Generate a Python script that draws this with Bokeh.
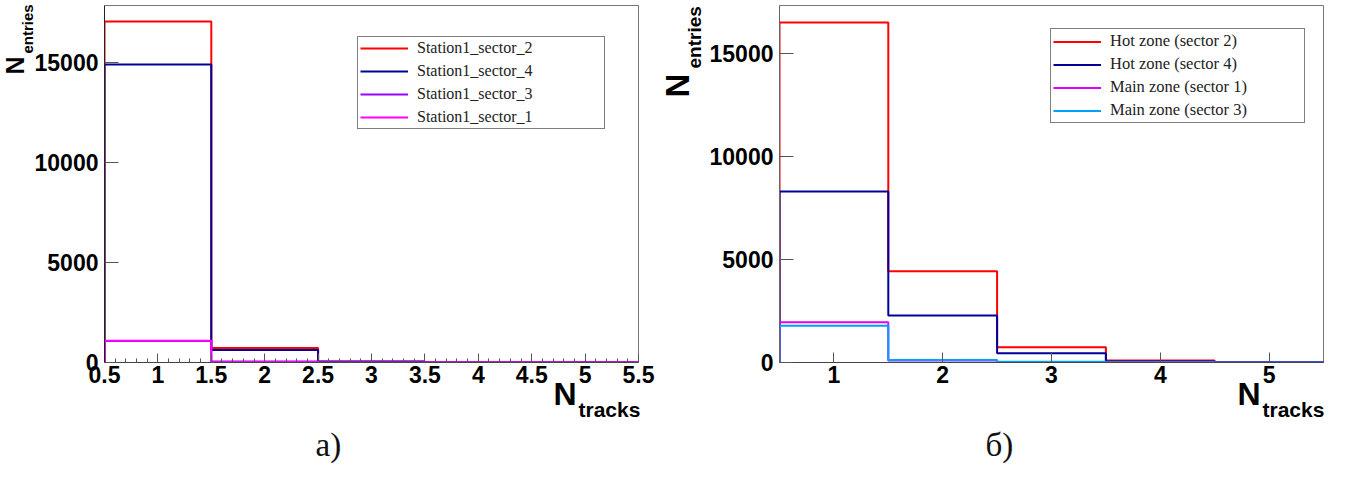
import numpy as np
from bokeh.plotting import figure
from bokeh.models import Range1d, FixedTicker, Legend, LegendItem, Title
from bokeh.layouts import row
from bokeh.embed import file_html
from bokeh.resources import INLINE

# ---------------- data ----------------
bin_edges = [0.5, 1.5, 2.5, 3.5, 4.5, 5.5]

# panel a)
left_names = ["Station1_sector_2", "Station1_sector_4", "Station1_sector_3", "Station1_sector_1"]
left_colors = ["#ff0000", "#000099", "#9900ff", "#ff00ff"]
left_sector2 = [17050, 720, 40, 0, 0]
left_sector4 = [14900, 620, 50, 0, 0]
left_sector3 = [1080, 45, 5, 0, 0]
left_sector1 = [1090, 30, 5, 0, 0]
left_values = [left_sector2, left_sector4, left_sector3, left_sector1]

# panel б)
right_names = ["Hot zone (sector 2)", "Hot zone (sector 4)", "Main zone (sector 1)", "Main zone (sector 3)"]
right_colors = ["#ff0000", "#000099", "#dd00ff", "#00a0ff"]
right_sector2 = [16500, 4430, 740, 100, 25]
right_sector4 = [8300, 2280, 450, 50, 20]
right_sector1 = [1950, 100, 30, 10, 5]
right_sector3 = [1780, 120, 35, 10, 5]
right_values = [right_sector2, right_sector4, right_sector1, right_sector3]

y_ticks = [0, 5000, 10000, 15000]
y_tick_labels = ["0", "5000", "10000", "15000"]
left_x_ticks = [0.5, 1, 1.5, 2, 2.5, 3, 3.5, 4, 4.5, 5, 5.5]
left_x_tick_labels = ["0.5", "1", "1.5", "2", "2.5", "3", "3.5", "4", "4.5", "5", "5.5"]
left_x_minor = [round(0.5 + 0.1 * i, 2) for i in range(51)]
right_x_ticks = [1, 2, 3, 4, 5]
right_x_tick_labels = ["1", "2", "3", "4", "5"]

SANS = "Liberation Sans"
SERIF = "Liberation Serif"


def hist_xy(edges, vals):
    e = np.asarray(edges, dtype=float)
    v = np.asarray(vals, dtype=float)
    xs = np.repeat(e, 2)
    ys = np.concatenate([[0.0], np.repeat(v, 2), [0.0]])
    return xs, ys


def title(text, side_font, size, align, offset, valign, standoff, style="bold", color="black"):
    return Title(text=text, text_font=side_font, text_font_size=size, text_font_style=style,
                 text_color=color, align=align, offset=offset, vertical_align=valign,
                 standoff=standoff)


def make_panel(width, border_left, border_right, ymax, values, names, colors,
               x_ticks, x_labels, x_minor, legend_loc, legend_cfg,
               ytitles, xtitles, caption):
    p = figure(width=width, height=472, output_backend="svg", toolbar_location=None,
               x_range=Range1d(0.5, 5.5), y_range=Range1d(0, ymax),
               min_border_left=border_left, min_border_right=border_right,
               min_border_top=5, min_border_bottom=110)
    p.xgrid.visible = False
    p.ygrid.visible = False
    p.outline_line_color = "#777777"
    p.outline_line_width = 1
    p.background_fill_color = "white"
    p.border_fill_color = "white"

    xa = p.xaxis[0]
    xa.ticker = FixedTicker(ticks=x_ticks, minor_ticks=x_minor)
    xa.major_label_overrides = {t: l for t, l in zip(x_ticks, x_labels)}
    xa.major_tick_in = 9
    xa.major_tick_out = 0
    xa.minor_tick_in = 4
    xa.minor_tick_out = 0
    xa.major_tick_line_color = "#555555"
    xa.minor_tick_line_color = "#555555"
    xa.axis_line_color = "#444444"
    xa.major_label_text_font = SANS
    xa.major_label_text_font_style = "bold"
    xa.major_label_text_font_size = "23px"
    xa.major_label_text_color = "black"
    xa.major_label_standoff = 3

    ya = p.yaxis[0]
    ya.ticker = FixedTicker(ticks=y_ticks, minor_ticks=[])
    ya.major_label_overrides = {t: l for t, l in zip(y_ticks, y_tick_labels)}
    ya.major_tick_in = 14
    ya.major_tick_out = 0
    ya.major_tick_line_color = "#555555"
    ya.axis_line_color = "#222222"
    ya.major_label_text_font = SANS
    ya.major_label_text_font_style = "bold"
    ya.major_label_text_font_size = "23px"
    ya.major_label_text_color = "black"
    ya.major_label_standoff = 6

    renderers = []
    for vals, c in zip(values, colors):
        xs, ys = hist_xy(bin_edges, vals)
        r = p.line(xs, ys, line_color=c, line_width=2)
        renderers.append(r)

    font, lh, sp, lw = legend_cfg
    items = [LegendItem(label=n, renderers=[r]) for n, r in zip(names, renderers)]
    leg = Legend(items=items, location=legend_loc, orientation="vertical",
                 label_text_font=SERIF, label_text_font_size=font,
                 label_text_color="#222222",
                 glyph_width=48, glyph_height=lh, label_height=lh, label_standoff=9,
                 label_width=lw, spacing=sp, padding=2, margin=0,
                 border_line_color="black", border_line_width=1,
                 background_fill_color="white", background_fill_alpha=1.0)
    p.add_layout(leg, "center")

    # y axis title: "entries" (subscript, nearer to axis) then "N"
    (e_size, e_off, e_so), (n_size, n_off, n_so) = ytitles
    p.add_layout(title("entries", SANS, e_size, "left", e_off, "top", e_so), "left")
    p.add_layout(title("N", SANS, n_size, "left", n_off, "top", n_so), "left")

    # x axis title: "N" then subscript "tracks"
    (m_size, m_off, m_so), (t_size, t_off, t_so), spacer_so = xtitles
    p.add_layout(title("N", SANS, m_size, "left", m_off, "top", m_so), "below")
    p.add_layout(title("tracks", SANS, t_size, "left", t_off, "top", t_so), "below")
    p.add_layout(title(" ", SANS, "10px", "left", 0, "top", spacer_so, style="normal"), "below")

    c_text, c_off, c_so = caption
    p.add_layout(title(c_text, SERIF, "33px", "left", c_off, "top", c_so,
                       style="normal", color="#111111"), "below")
    return p


p1 = make_panel(660, 104, 22, 17850, left_values, left_names, left_colors,
                left_x_ticks, left_x_tick_labels, left_x_minor,
                (253, 233), ("16px", 18, 5, 185),
                (("15px", 309, -12), ("25px", 288, -13)),
                (("32px", 449, -20), ("21px", 474, -12), 2),
                ("а)", 211, -10))

p2 = make_panel(681, 119, 18, 17330, right_values, right_names, right_colors,
                right_x_ticks, right_x_tick_labels, [],
                (271, 239), ("16.5px", 19, 3, 192),
                (("19px", 294, 0), ("33px", 265, -29)),
                (("32px", 458, -20), ("21px", 483, -12), 2),
                ("б)", 206, -10))
p2.xaxis[0].major_tick_in = 10
p2.yaxis[0].axis_line_color = "#666666"

layout = row(p1, p2)
open("out.html", "w").write(file_html(layout, INLINE))
